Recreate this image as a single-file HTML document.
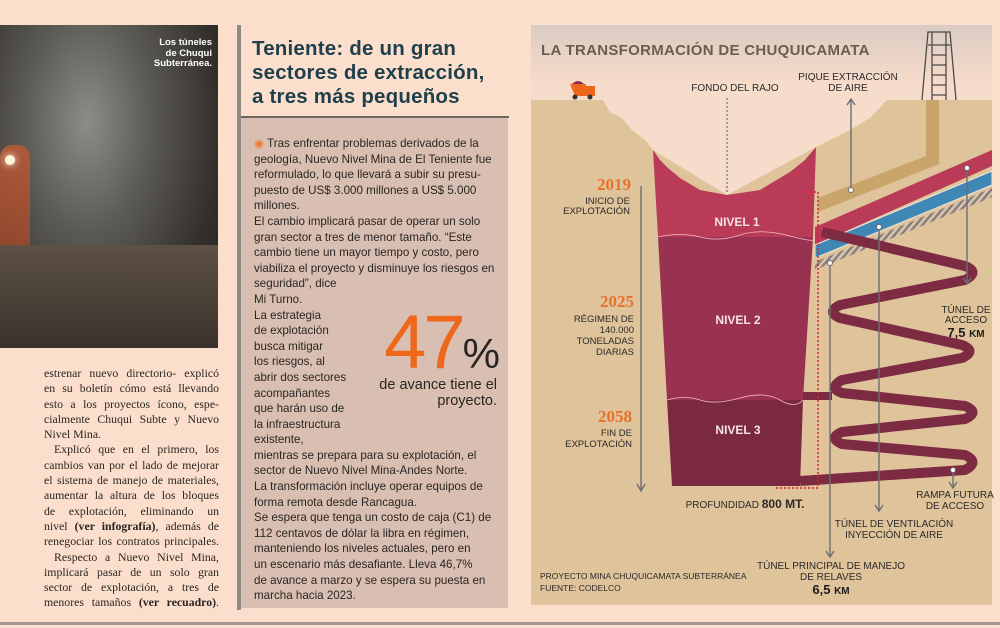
<!DOCTYPE html>
<html><head><meta charset="utf-8">
<style>
*{margin:0;padding:0;box-sizing:border-box}
body{width:1000px;height:628px;background:#fbdfcc;position:relative;overflow:hidden;font-family:"Liberation Sans",sans-serif}
.abs{position:absolute}
#photo{left:0;top:25px;width:218px;height:323px;background:radial-gradient(ellipse at 40% 30%,#8d8c88 0%,#5b5954 35%,#34312d 70%,#1f1c19 100%)}
#leftcol{left:44px;top:366px;width:175px;font-family:"Liberation Serif",serif;font-size:11.8px;line-height:15.3px;color:#2a2522}
#leftcol div{text-align:justify;text-align-last:justify;white-space:nowrap;overflow:visible}
#leftcol div.l{text-align-last:left}
#leftcol div.i{padding-left:10px}
#vbar{left:237px;top:25px;width:4px;height:585px;background:#8f8a85}
#stitle{left:252px;top:37px;width:270px;font-size:20.5px;line-height:24px;font-weight:bold;color:#1e3f4b;letter-spacing:.2px;white-space:nowrap}
#srule{left:241px;top:116px;width:268px;height:2px;background:#6d6560}
#sbox{left:241px;top:118px;width:267px;height:490px;background:#d8bfb2}
#sbody{left:254px;top:136px;width:250px;font-size:11.6px;line-height:15.6px;color:#2a2522;white-space:nowrap}
#bottomrule{left:0;top:622px;width:1000px;height:3px;background:#a39790}
</style></head><body>
<div id="photo" class="abs">
 <div class="abs" style="left:0;top:120px;width:30px;height:200px;background:linear-gradient(#c35a34,#8a3a22);border-radius:12px;opacity:.8"></div>
 <div class="abs" style="left:5px;top:130px;width:10px;height:10px;border-radius:50%;background:#fff8d8;box-shadow:0 0 8px #fff"></div>
 <div class="abs" style="left:0;top:220px;width:218px;height:103px;background:linear-gradient(#5e5145,#3a332c)"></div>
 <div class="abs" style="right:6px;top:13px;text-align:right;font-size:9.5px;line-height:10.5px;font-weight:bold;color:#fff">Los túneles<br>de Chuqui<br>Subterránea.</div>
</div>
<div id="leftcol" class="abs">
<div>estrenar nuevo directorio- explicó</div>
<div>en su boletín cómo está llevando</div>
<div>esto a los proyectos ícono, espe-</div>
<div>cialmente Chuqui Subte y Nuevo</div>
<div class="l">Nivel Mina.</div>
<div class="i">Explicó que en el primero, los</div>
<div>cambios van por el lado de mejorar</div>
<div>el sistema de manejo de materiales,</div>
<div>aumentar la altura de los bloques</div>
<div>de explotación, eliminando un</div>
<div>nivel <b>(ver infografía)</b>, además de</div>
<div>renegociar los contratos principales.</div>
<div class="i">Respecto a Nuevo Nivel Mina,</div>
<div>implicará pasar de un solo gran</div>
<div>sector de explotación, a tres de</div>
<div>menores tamaños <b>(ver recuadro)</b>.</div>
</div>
<div id="vbar" class="abs"></div>
<div id="stitle" class="abs">Teniente: de un gran<br>sectores de extracción,<br>a tres más pequeños</div>
<div id="sbox" class="abs"></div>
<div id="srule" class="abs"></div>
<div id="sbody" class="abs">
<span style="color:#f07a2a">◉</span> Tras enfrentar problemas derivados de la<br>geología, Nuevo Nivel Mina de El Teniente fue<br>reformulado, lo que llevará a subir su presu-<br>puesto de US$ 3.000 millones a US$ 5.000<br>millones.<br>
El cambio implicará pasar de operar un solo<br>gran sector a tres de menor tamaño. “Este<br>cambio tiene un mayor tiempo y costo, pero<br>viabiliza el proyecto y disminuye los riesgos en<br>seguridad”, dice<br>Mi Turno.<br>
La estrategia<br>de explotación<br>busca mitigar<br>los riesgos, al<br>abrir dos sectores<br>acompañantes<br>que harán uso de<br>la infraestructura<br>existente,<br>
mientras se prepara para su explotación, el<br>sector de Nuevo Nivel Mina-Andes Norte.<br>
La transformación incluye operar equipos de<br>forma remota desde Rancagua.<br>
Se espera que tenga un costo de caja (C1) de<br>112 centavos de dólar la libra en régimen,<br>manteniendo los niveles actuales, pero en<br>un escenario más desafiante. Lleva 46,7%<br>de avance a marzo y se espera su puesta en<br>marcha hacia 2023.
</div>
<div class="abs" style="left:370px;top:305px;width:130px;text-align:right">
 <span style="font-size:76px;line-height:76px;color:#f0661a;letter-spacing:-3px">47</span><span style="font-size:42px;color:#2a2522">%</span>
 <div style="font-size:14.5px;line-height:16px;color:#2a2522;margin-top:-4px;margin-right:3px">de avance tiene el<br>proyecto.</div>
</div>

<svg class="abs" style="left:0;top:0" width="1000" height="628">
 <defs>
  <linearGradient id="hdr" x1="0" y1="0" x2="0" y2="1"><stop offset="0" stop-color="#d9cbc2"/><stop offset="1" stop-color="#f8dccb"/></linearGradient>
  <pattern id="hatch" width="5" height="5" patternUnits="userSpaceOnUse" patternTransform="rotate(40)"><rect width="5" height="5" fill="#d8c6b0"/><rect width="2.5" height="5" fill="#8c7f7a"/></pattern>
 </defs>
 <rect x="531" y="25" width="461" height="580" fill="#f6dccb"/>
 <rect x="531" y="25" width="461" height="60" fill="url(#hdr)"/>
 <path d="M531,100 L603,100 L610,112 L622,118 L632,130 L645,140 L653,150 L727,195 L816,147 L830,140 L850,130 L870,118 L887,100 L992,100 L992,605 L531,605 Z" fill="#dec39b"/>
 <text x="541" y="55" font-size="15" font-weight="bold" fill="#6e5c52" letter-spacing=".3">LA TRANSFORMACIÓN DE CHUQUICAMATA</text>
 <g><path d="M570,84 L586,84 L586,96 L575,96 Z" fill="#f0661a"/><rect x="586" y="86" width="9" height="10" fill="#f0661a"/><path d="M572,84 Q578,78 584,84Z" fill="#8a3050"/><circle cx="575" cy="97" r="2.5" fill="#333"/><circle cx="590" cy="97" r="2.5" fill="#333"/></g>
 <g stroke="#4c4a48" stroke-width="1.3" fill="none"><path d="M922,100 L928,32 L950,32 L956,100 M932,32 L932,100 M946,32 L946,100 M928,45 L950,45 M932,55 L946,55 M932,65 L946,65 M932,75 L946,75 M932,85 L946,85 M932,95 L946,95"/></g>
 <path d="M926,100 L939,100 L939,164 L818,212 L818,198 L926,156 Z" fill="#c9a56b"/>
 <path d="M653,150 L660,160 L668,168 L680,178 L700,190 L727,195 L760,190 L790,172 L805,160 L816,147 L813,237 L658,237 Z" fill="#b93b57"/>
 <path d="M658,237 L813,237 L803,400 L667,400 Z" fill="#993150"/>
 <path d="M658,237 Q680,232 700,237 T740,235 T790,236 T813,237" stroke="#f2b9c2" stroke-width="0.8" fill="none"/>
 <path d="M667,400 L803,400 L800,486 L672,486 Z" fill="#7b2841"/>
 <path d="M667,400 Q685,395 700,400 T740,398 T780,400 T803,400" stroke="#f2b9c2" stroke-width="0.8" fill="none"/>
 <text x="737" y="226" font-size="12" font-weight="bold" fill="#f6e3e3" text-anchor="middle">NIVEL 1</text>
 <text x="738" y="324" font-size="12" font-weight="bold" fill="#f6e3e3" text-anchor="middle">NIVEL 2</text>
 <text x="738" y="434" font-size="12" font-weight="bold" fill="#f6e3e3" text-anchor="middle">NIVEL 3</text>
 <polygon points="992,150 992,166 815,245 815,227" fill="#b93b57"/>
 <polygon points="992,171 992,185 815,258 815,245" fill="#3f87b5" stroke="#f3e5d8" stroke-width="1"/>
 <polygon points="992,188 992,197 815,270 815,262" fill="url(#hatch)"/>
 <path d="M822,232 L965,266 Q980,272 965,280 L840,305 Q826,312 840,318 L962,345 Q977,351 962,358 L842,380 Q828,388 842,393 L965,406 Q980,412 965,419 L842,432 Q828,438 842,444 L965,455 Q980,462 965,470 L800,481" stroke="#7d2a43" stroke-width="10" fill="none" stroke-linejoin="round"/>
 <path d="M803,396 L832,396" stroke="#7d2a43" stroke-width="8"/>
 <path d="M806,192 L818,192 L818,488 L776,488" stroke="#d22" stroke-width="1.5" stroke-dasharray="2,2" fill="none"/>
 <line x1="727" y1="98" x2="727" y2="194" stroke="#555" stroke-width="1" stroke-dasharray="2,2"/>
 <g stroke="#6e6e72" stroke-width="1.4" fill="none">
  <path d="M851,190 L851,100 M847,105 L851,99 L855,105"/>
  <path d="M967,168 L967,283 M963,278 L967,284 L971,278"/>
  <path d="M879,227 L879,510 M875,505 L879,511 L883,505"/>
  <path d="M830,263 L830,556 M826,551 L830,557 L834,551"/>
  <path d="M953,470 L953,487 M949,482 L953,488 L957,482"/>
  <path d="M641,186 L641,490 M637,484 L641,491 L645,484"/>
 </g>
 <g fill="#fff" stroke="#6e6e72" stroke-width="1"><circle cx="851" cy="190" r="2.5"/><circle cx="967" cy="168" r="2.5"/><circle cx="879" cy="227" r="2.5"/><circle cx="830" cy="263" r="2.5"/><circle cx="953" cy="470" r="2.5"/></g>
 <g font-size="10" fill="#2d2a28" text-anchor="middle">
  <text x="735" y="91">FONDO DEL RAJO</text>
  <text x="848" y="80">PIQUE EXTRACCIÓN</text>
  <text x="848" y="91">DE AIRE</text>
  <text x="966" y="313">TÚNEL DE</text>
  <text x="966" y="323">ACCESO</text>
  <text x="955" y="498">RAMPA FUTURA</text>
  <text x="955" y="509">DE ACCESO</text>
  <text x="894" y="527">TÚNEL DE VENTILACIÓN</text>
  <text x="894" y="538">INYECCIÓN DE AIRE</text>
  <text x="831" y="569">TÚNEL PRINCIPAL DE MANEJO</text>
  <text x="831" y="580">DE RELAVES</text>
  <text x="745" y="508">PROFUNDIDAD <tspan font-weight="bold" font-size="12">800 MT.</tspan></text>
 </g>
 <text x="966" y="337" font-size="13" font-weight="bold" fill="#1e1c1b" text-anchor="middle">7,5 <tspan font-size="10">KM</tspan></text>
 <text x="831" y="594" font-size="13" font-weight="bold" fill="#1e1c1b" text-anchor="middle">6,5 <tspan font-size="10">KM</tspan></text>
 <g text-anchor="end">
  <text x="631" y="190" font-family="Liberation Serif,serif" font-size="17" font-weight="bold" fill="#e8702a">2019</text>
  <text x="630" y="204" font-size="9.5" fill="#2d2a28">INICIO DE</text>
  <text x="630" y="214" font-size="9.5" fill="#2d2a28">EXPLOTACIÓN</text>
  <text x="634" y="307" font-family="Liberation Serif,serif" font-size="17" font-weight="bold" fill="#e8702a">2025</text>
  <text x="634" y="322" font-size="9.5" fill="#2d2a28">RÉGIMEN DE</text>
  <text x="634" y="333" font-size="9.5" fill="#2d2a28">140.000</text>
  <text x="634" y="344" font-size="9.5" fill="#2d2a28">TONELADAS</text>
  <text x="634" y="355" font-size="9.5" fill="#2d2a28">DIARIAS</text>
  <text x="632" y="422" font-family="Liberation Serif,serif" font-size="17" font-weight="bold" fill="#e8702a">2058</text>
  <text x="632" y="436" font-size="9.5" fill="#2d2a28">FIN DE</text>
  <text x="632" y="447" font-size="9.5" fill="#2d2a28">EXPLOTACIÓN</text>
 </g>
 <text x="540" y="579" font-size="8.5" fill="#2d2a28">PROYECTO MINA CHUQUICAMATA SUBTERRÁNEA</text>
 <text x="540" y="591" font-size="8.5" fill="#2d2a28">FUENTE: CODELCO</text>
</svg>
<div id="bottomrule" class="abs"></div>
</body></html>
